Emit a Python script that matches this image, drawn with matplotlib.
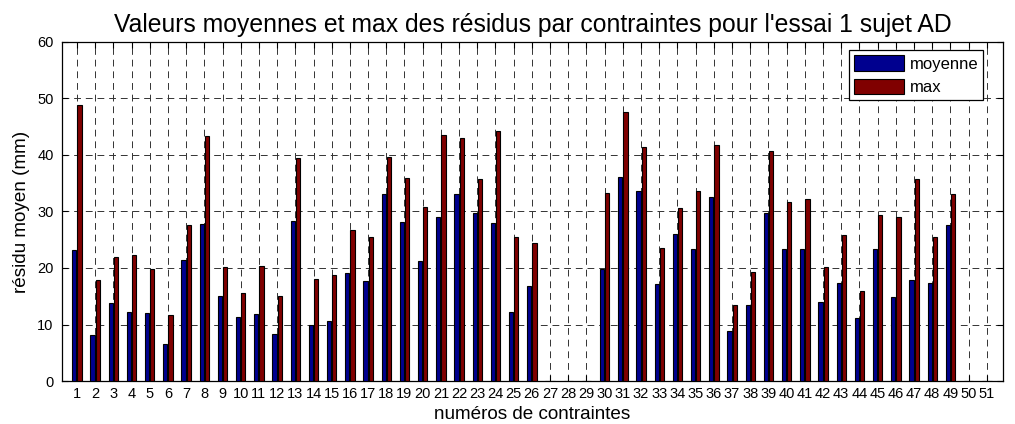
import numpy as np
import matplotlib.pyplot as plt

plt.rcParams['font.family'] = ['Liberation Sans', 'DejaVu Sans']

# numéros des contraintes et résidus (mm)
contraintes = list(range(1, 52))
moyenne = [23.2, 8.2, 13.8, 12.2, 12.0, 6.6, 21.5, 27.8, 15.0, 11.3,
           11.8, 8.3, 28.4, 9.9, 10.6, 19.1, 17.7, 33.1, 28.2, 21.3,
           29.0, 33.1, 29.7, 28.0, 12.2, 16.8, 0, 0, 0, 19.8,
           36.1, 33.6, 17.1, 26.0, 23.4, 32.5, 8.8, 13.5, 29.7, 23.4,
           23.4, 13.9, 17.4, 11.2, 23.4, 14.9, 17.8, 17.4, 27.6, 0, 0]
maximum = [48.8, 17.8, 21.9, 22.3, 19.8, 11.6, 27.6, 43.3, 20.2, 15.5,
           20.4, 15.0, 39.4, 18.1, 18.7, 26.7, 25.5, 39.6, 36.0, 30.8,
           43.6, 43.0, 35.8, 44.3, 25.4, 24.5, 0, 0, 0, 33.3,
           47.6, 41.5, 23.6, 30.6, 33.7, 41.8, 13.5, 19.3, 40.7, 31.7,
           32.2, 20.2, 25.8, 15.9, 29.3, 29.0, 35.8, 25.4, 33.1, 0, 0]

x = np.array(contraintes)
largeur = 0.23
decalage = 0.143

fig = plt.figure(figsize=(10.15, 4.24), dpi=100)
ax = fig.add_axes([0.0611, 0.1014, 0.9269, 0.7996])

ax.bar(x - decalage, moyenne, largeur, color='#00008f', edgecolor='black',
       linewidth=0.8, label='moyenne', zorder=3)
ax.bar(x + decalage, maximum, largeur, color='#800000', edgecolor='black',
       linewidth=0.8, label='max', zorder=3)

ax.set_xlim(0.18, 51.88)
ax.set_ylim(0, 60)
ax.set_xticks(x)
ax.set_xticklabels([str(c) for c in contraintes])
ax.set_yticks(range(0, 61, 10))
ax.tick_params(direction='in', labelsize=10.5, top=True, right=True,
               length=4, width=0.8, pad=6)
ax.tick_params(axis='x', pad=4)
ax.grid(True, color='#333333', linestyle=(0, (7, 5)), linewidth=0.7, zorder=0)
for s in ax.spines.values():
    s.set_linewidth(0.9)

ax.set_title("Valeurs moyennes et max des résidus par contraintes pour l'essai 1 sujet AD",
             fontsize=17.8, pad=7)
ax.set_xlabel('numéros de contraintes', fontsize=13.6, labelpad=4)
ax.set_ylabel('résidu moyen (mm)', fontsize=13.6, labelpad=5)

leg = ax.legend(loc='upper right', bbox_to_anchor=(0.979, 0.975), fontsize=12,
                fancybox=False, edgecolor='black', framealpha=1,
                handlelength=3.0, handleheight=1.05, handletextpad=0.3,
                borderpad=0.3, labelspacing=0.4, borderaxespad=0)
leg.get_frame().set_linewidth(0.9)

fig.savefig('out.png', dpi=100)
